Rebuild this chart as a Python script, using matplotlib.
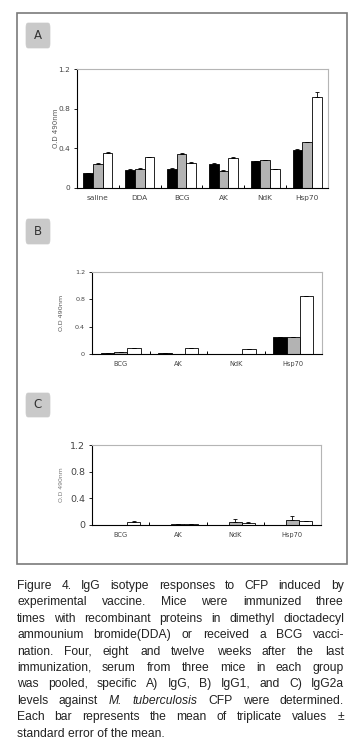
import matplotlib
matplotlib.use('Agg')
import matplotlib.pyplot as plt
from matplotlib import font_manager
from matplotlib.patches import Rectangle, FancyBboxPatch
import numpy as np

W, H = 349, 743
DPI = 100

# ---------------- data ----------------
groups_A = ['saline', 'DDA', 'BCG', 'AK', 'NdK', 'Hsp70']
A_black = [0.15, 0.185, 0.19, 0.24, 0.27, 0.38]
A_gray = [0.245, 0.195, 0.34, 0.175, 0.28, 0.46]
A_white = [0.353, 0.31, 0.25, 0.305, 0.19, 0.92]
A_black_err = [0.004, 0.005, 0.008, 0.015, 0.004, 0.01]
A_gray_err = [0.008, 0.005, 0.008, 0.004, 0.004, 0.005]
A_white_err = [0.012, 0.005, 0.012, 0.004, 0.004, 0.045]

groups_BC = ['BCG', 'AK', 'NdK', 'Hsp70']
B_black = [0.008, 0.015, 0.005, 0.245]
B_gray = [0.03, 0.005, 0.005, 0.243]
B_white = [0.085, 0.085, 0.07, 0.85]
B_black_err = [0.002, 0.003, 0.002, 0.008]
B_gray_err = [0.003, 0.002, 0.002, 0.01]
B_white_err = [0.003, 0.003, 0.003, 0.003]

C_black = [0.005, 0.005, 0.005, 0.005]
C_gray = [0.005, 0.01, 0.05, 0.07]
C_white = [0.05, 0.01, 0.035, 0.055]
C_black_err = [0.002, 0.002, 0.002, 0.002]
C_gray_err = [0.002, 0.003, 0.035, 0.06]
C_white_err = [0.003, 0.003, 0.003, 0.003]

y_ticks = [0, 0.4, 0.8, 1.2]
y_ticklabels = ['0', '0.4', '0.8', '1.2']
ylabel = 'O.D 490nm'

caption_lines = [
    [('Figure', 'normal'), ('4.', 'normal'), ('IgG', 'normal'), ('isotype', 'normal'),
     ('responses', 'normal'), ('to', 'normal'), ('CFP', 'normal'), ('induced', 'normal'), ('by', 'normal')],
    [('experimental', 'normal'), ('vaccine.', 'normal'), ('Mice', 'normal'), ('were', 'normal'),
     ('immunized', 'normal'), ('three', 'normal')],
    [('times', 'normal'), ('with', 'normal'), ('recombinant', 'normal'), ('proteins', 'normal'),
     ('in', 'normal'), ('dimethyl', 'normal'), ('dioctadecyl', 'normal')],
    [('ammounium', 'normal'), ('bromide(DDA)', 'normal'), ('or', 'normal'), ('received', 'normal'),
     ('a', 'normal'), ('BCG', 'normal'), ('vacci-', 'normal')],
    [('nation.', 'normal'), ('Four,', 'normal'), ('eight', 'normal'), ('and', 'normal'),
     ('twelve', 'normal'), ('weeks', 'normal'), ('after', 'normal'), ('the', 'normal'), ('last', 'normal')],
    [('immunization,', 'normal'), ('serum', 'normal'), ('from', 'normal'), ('three', 'normal'),
     ('mice', 'normal'), ('in', 'normal'), ('each', 'normal'), ('group', 'normal')],
    [('was', 'normal'), ('pooled,', 'normal'), ('specific', 'normal'), ('A)', 'normal'), ('IgG,', 'normal'),
     ('B)', 'normal'), ('IgG1,', 'normal'), ('and', 'normal'), ('C)', 'normal'), ('IgG2a', 'normal')],
    [('levels', 'normal'), ('against', 'normal'), ('M.', 'italic'), ('tuberculosis', 'italic'),
     ('CFP', 'normal'), ('were', 'normal'), ('determined.', 'normal')],
    [('Each', 'normal'), ('bar', 'normal'), ('represents', 'normal'), ('the', 'normal'), ('mean', 'normal'),
     ('of', 'normal'), ('triplicate', 'normal'), ('values', 'normal'), ('±', 'normal')],
    [('standard error of the mean.', 'normal')],
]

# ---------------- figure ----------------
fig = plt.figure(figsize=(W / DPI, H / DPI), dpi=DPI)
fig.patch.set_facecolor('white')


def fx(x):
    return x / W


def fy(y):
    return 1 - y / H


# outer frame
fig.patches.append(Rectangle((fx(17), fy(564)), fx(347) - fx(17), fy(13) - fy(564),
                             transform=fig.transFigure, fill=False, edgecolor='#7a7a7a', lw=1.2))

# panel label boxes
for lab, y0, y1 in [('A', 23, 48), ('B', 219, 244), ('C', 393, 417)]:
    fig.patches.append(FancyBboxPatch((fx(26), fy(y1)), fx(50) - fx(26), fy(y0) - fy(y1),
                                      boxstyle='round,pad=0,rounding_size=0.006',
                                      transform=fig.transFigure, facecolor='#c9c9c9',
                                      edgecolor='#c9c9c9', lw=0.5))
    fig.text(fx(38), fy((y0 + y1) / 2), lab, ha='center', va='center', fontsize=8.5,
             color='#333333', family='DejaVu Sans')


def draw_panel(rect, groups, blacks, grays, whites, berr, gerr, werr,
               ytick_fs, xtick_fs, ylab_x, ylab_fs, ylab_color):
    l, t, r, b = rect
    ax = fig.add_axes([fx(l), fy(b), fx(r) - fx(l), fy(t) - fy(b)])
    n = len(groups)
    x = np.arange(n)
    w = 0.23
    ekw = dict(ecolor='black', elinewidth=0.6, capthick=0.6)
    zeros = np.zeros(n)
    ax.bar(x - w, blacks, w, color='black', edgecolor='black', lw=0.6,
           yerr=[zeros, berr], capsize=1.6, error_kw=ekw)
    ax.bar(x, grays, w, color='#b3b3b3', edgecolor='black', lw=0.6,
           yerr=[zeros, gerr], capsize=1.6, error_kw=ekw)
    ax.bar(x + w, whites, w, color='white', edgecolor='black', lw=0.6,
           yerr=[zeros, werr], capsize=1.6, error_kw=ekw)
    ax.set_xlim(-0.5, n - 0.5)
    ax.set_ylim(0, 1.2)
    ax.set_yticks(y_ticks)
    ax.set_yticklabels(y_ticklabels, fontsize=ytick_fs, color='#444444')
    ax.set_xticks(x)
    ax.set_xticklabels(groups, fontsize=xtick_fs, color='#444444')
    ax.set_xticks(np.arange(n - 1) + 0.5, minor=True)
    ax.tick_params(axis='x', which='major', length=0, pad=5)
    ax.tick_params(axis='x', which='minor', length=2, direction='in', width=0.7)
    ax.tick_params(axis='y', length=2.5, width=0.6, pad=2.5)
    for s in ['left', 'bottom']:
        ax.spines[s].set_color('black')
        ax.spines[s].set_linewidth(0.8)
    for s in ['top', 'right']:
        ax.spines[s].set_color('#b5b5b5')
        ax.spines[s].set_linewidth(0.8)
    fig.text(fx(ylab_x), fy((t + b) / 2), ylabel, rotation=90, ha='center', va='center',
             fontsize=ylab_fs, color=ylab_color)
    return ax


draw_panel((77, 69, 328, 188), groups_A, A_black, A_gray, A_white,
           A_black_err, A_gray_err, A_white_err, 5.3, 5.3, 56, 5.0, '#555555')
draw_panel((92, 272, 322, 354), groups_BC, B_black, B_gray, B_white,
           B_black_err, B_gray_err, B_white_err, 4.6, 4.8, 61, 4.6, '#555555')
draw_panel((92, 445, 321, 525), groups_BC, C_black, C_gray, C_white,
           C_black_err, C_gray_err, C_white_err, 6.8, 4.8, 61, 4.4, '#777777')

# ---------------- caption (justified) ----------------
avail = {f.name for f in font_manager.fontManager.ttflist}
cap_family = 'Liberation Sans Narrow' if 'Liberation Sans Narrow' in avail else 'Liberation Sans'
renderer = fig.canvas.get_renderer()


def measure(s, fs, style):
    t = fig.text(0, 0, s, fontsize=fs, family=[cap_family, 'DejaVu Sans'], style=style)
    wpx = t.get_window_extent(renderer).width
    t.remove()
    return wpx


# size chosen so the last (unjustified) line spans about the reference width
base = 10.0
target = 139.0 if cap_family == 'Liberation Sans Narrow' else 148.0
cap_fs = base * target / measure('standard error of the mean.', base, 'normal')

x0, x1 = 17, 344
for i, words in enumerate(caption_lines):
    yb = 589 + i * 16.4
    widths = [measure(wd, cap_fs, st) for wd, st in words]
    if len(words) > 1:
        gap = (x1 - x0 - sum(widths)) / (len(words) - 1)
    else:
        gap = 0
    cx = x0
    for (wd, st), wpx in zip(words, widths):
        fig.text(fx(cx), fy(yb), wd, fontsize=cap_fs, family=[cap_family, 'DejaVu Sans'],
                 style=st, ha='left', va='baseline', color='#222222')
        cx += wpx + gap

fig.savefig('out.png', dpi=DPI, facecolor='white')
